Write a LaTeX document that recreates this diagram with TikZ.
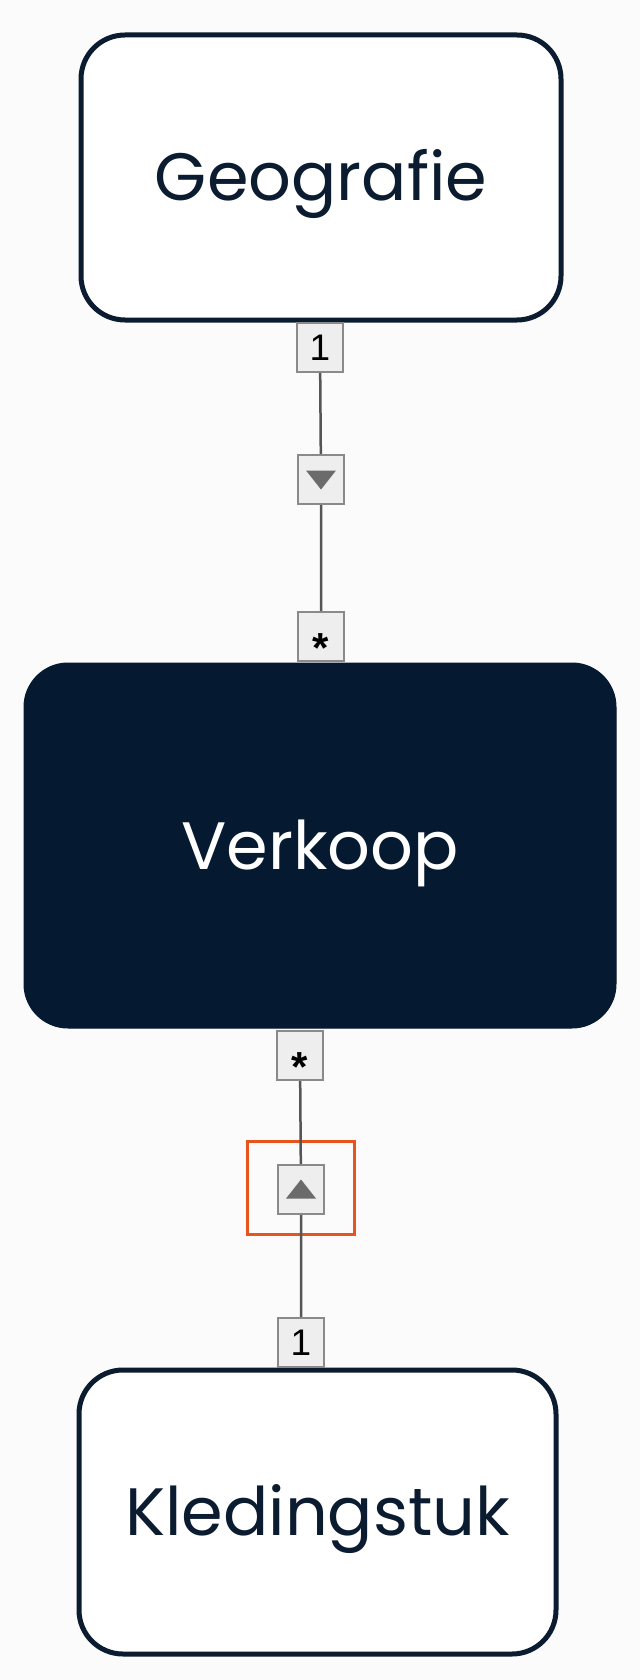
\documentclass[tikz,border=0pt]{standalone}
\usepackage{fontspec}
\setmainfont{Poppins}
\newfontfamily\lblfont{Liberation Sans}
\usetikzlibrary{backgrounds,calc}
\definecolor{navy}{HTML}{0B1B30}
\definecolor{darkfill}{HTML}{051A30}
\definecolor{lblfill}{HTML}{EEEEEE}
\definecolor{lbledge}{HTML}{8A8A8A}
\definecolor{conn}{HTML}{555555}
\definecolor{hl}{HTML}{E8541E}
\definecolor{tri}{HTML}{6B6B6B}
\definecolor{canvas}{HTML}{FBFBFB}
\begin{document}
\begin{tikzpicture}[x=1pt,y=-1pt,
  entity/.style={draw=navy, line width=5pt, rounded corners=44pt, fill=white,
    text=navy, font=\fontsize{67}{80}\selectfont, inner sep=0pt,
    text height=50pt, text depth=3pt},
  dark/.style={entity, draw=darkfill, line width=1pt, fill=darkfill, text=white},
  lblbox/.style={draw=lbledge, line width=2pt, fill=lblfill,
    minimum width=46pt, minimum height=49pt, inner sep=0pt},
  lbltext/.style={font=\lblfont\fontsize{37}{42}\selectfont, text=black, inner sep=0pt},
  startext/.style={font=\lblfont\bfseries\fontsize{42}{46}\selectfont, text=black, inner sep=0pt},
  connline/.style={draw=conn, line width=2.5pt},
  hlframe/.style={draw=hl, line width=3pt},
  trimark/.style={fill=tri}
]
\useasboundingbox (0,0) rectangle (640,1680);

% entity boxes
\node[entity, minimum width=480pt, minimum height=285pt] (geo) at (321,177.5) {Geografie};
\node[dark, minimum width=592pt, minimum height=365pt] (verk) at (320,845.5) {Verkoop};
\node[entity, minimum width=477pt, minimum height=284pt] (kled) at (317.5,1512) {Kledingstuk};

% label boxes, upper association
\node[lblbox] (l1) at (320,347.5) {};
\node[lblbox] (t1) at (321,479.5) {};
\node[lblbox] (s1) at (321,636.5) {};
% label boxes, lower association
\node[lblbox] (s2) at (300,1055) {};
\node[lblbox] (t2) at (301,1189.5) {};
\node[lblbox] (l2) at (301,1342) {};

\begin{pgfonlayer}{background}
  \fill[canvas] (0,0) rectangle (640,1680);
  \node[hlframe, minimum width=107pt, minimum height=93pt, inner sep=0pt] (hlbox) at (301,1188) {};
  \draw[connline] (l1.center) -- (t1.center) -- (s1.center);
  \draw[connline] (s2.center) -- (t2.center) -- (l2.center);
\end{pgfonlayer}

% texts in label boxes
\node[lbltext, anchor=base] (l1txt) at ($(l1.center)+(0,13)$) {1};
\node[lbltext, anchor=base] (l2txt) at ($(l2.center)+(0,13)$) {1};
\node[startext, anchor=base] (s1txt) at ($(s1.center)+(0,26)$) {*};
\node[startext, anchor=base] (s2txt) at ($(s2.center)+(0,26)$) {*};

% direction triangles
\fill[trimark] (t1.center) ++(-15,-9) -- ++(30,0) -- ++(-15,19) -- cycle;
\fill[trimark] (t2.center) ++(-15,9) -- ++(30,0) -- ++(-15,-19) -- cycle;
\end{tikzpicture}
\end{document}
